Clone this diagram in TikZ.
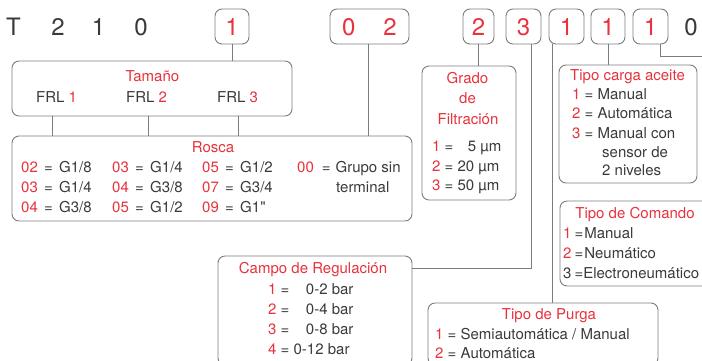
\documentclass[tikz,border=0pt]{standalone}
\usepackage{fontspec}
\setmainfont{TeX Gyre Heros}
\newfontfamily\qfont{TeX Gyre Heros}
\definecolor{rd}{HTML}{E8323C}
\definecolor{txt}{HTML}{3A3A3A}
\definecolor{ln}{HTML}{7C7C7C}
\newcommand\lblfont{\fontsize{15}{18}\selectfont}
\newcommand\bigdfont{\fontsize{24}{28}\selectfont}
\newcommand\rr[1]{\textcolor{rd}{#1}}
\tikzset{
  lbl/.style={inner sep=0pt, text=txt, font=\lblfont},
  ttl/.style={inner sep=0pt, text=rd, font=\lblfont, anchor=base},
  bigtxt/.style={inner sep=0pt, text=txt, font=\bigdfont, anchor=base},
  infobox/.style={draw=ln, line width=0.9pt, rounded corners=7pt, inner sep=0pt},
  digitbox/.style={infobox, text=rd, font=\bigdfont, text height=17pt, text depth=0pt, inner ysep=9pt, inner xsep=0pt, minimum height=35pt},
  wire/.style={draw=ln, line width=0.9pt}
}
\begin{document}
\begin{tikzpicture}[x=1pt,y=-1pt]
\useasboundingbox (0,0) rectangle (702,360);
\clip (0,0) rectangle (702,360);
% top code row
\node[bigtxt] (tT) at (13.5,35) {T};
\node[bigtxt] (t2) at (58,35) {2};
\node[bigtxt] (t1) at (98.5,35) {1};
\node[bigtxt] (t0) at (141,35) {0};
\node[bigtxt] (tend) at (691,35) {0};
\node[digitbox, minimum width=34pt] (b1) at (232,26.5) {1};
\node[digitbox, minimum width=79pt] (b02) at (369.5,26.5) {0\hspace{28pt}2};
\node[digitbox, minimum width=31pt] (b2) at (478.5,26.5) {2};
\node[digitbox, minimum width=35pt] (b3) at (523.5,26.5) {3};
\node[digitbox, minimum width=35pt] (b4) at (566.5,26.5) {1};
\node[digitbox, minimum width=34pt] (b5) at (608,26.5) {1};
\node[digitbox, minimum width=35pt] (b6) at (650.5,26.5) {1};
% boxes
\node[infobox, minimum width=280pt, minimum height=55pt] (tamano) at (152,88.5) {};
\node[infobox, minimum width=400pt, minimum height=85pt] (rosca) at (212,178.5) {};
\node[infobox, minimum width=94pt, minimum height=134pt] (grado) at (469,133) {};
\node[infobox, minimum width=138pt, minimum height=118pt] (carga) at (628,124) {};
\node[infobox, minimum width=150pt, minimum height=85pt] (comando) at (635,243.5) {};
\node[infobox, minimum width=194pt, minimum height=109pt] (campo) at (315,310.5) {};
\node[infobox, minimum width=230pt, minimum height=62pt] (purga) at (543,334) {};
% connectors
\draw[wire] (b1.south) -- (b1.south |- tamano.north);
\draw[wire] ([xshift=41pt]tamano.south west) -- ([xshift=41pt]tamano.south west |- rosca.north);
\draw[wire] ([xshift=137pt]tamano.south west) -- ([xshift=137pt]tamano.south west |- rosca.north);
\draw[wire] ([xshift=227pt]tamano.south west) -- ([xshift=227pt]tamano.south west |- rosca.north);
\draw[wire] ([xshift=-1.5pt]b02.south) -- ([xshift=-1.5pt]b02.south |- rosca.north);
\draw[wire] (b2.south) -- (b2.south |- grado.north);
\draw[wire] ([xshift=7.5pt]b3.south) |- ([yshift=-13pt]campo.north east);
\draw[wire] ([xshift=4pt]b4.south west) -- ([xshift=4pt]b4.south west |- purga.north);
\draw[wire] (b5.south) -- (b5.south |- carga.north);
\coordinate (offright) at (710,56);
\draw[wire] ([xshift=28pt]b6.south west) |- (offright);
% Tamano
\node[ttl] (tamT) at (152.5,81) {Tamaño};
\node[lbl, anchor=base west] (frl1) at (36,102) {FRL \rr{1}};
\node[lbl, anchor=base west] (frl2) at (126,102) {FRL \rr{2}};
\node[lbl, anchor=base west] (frl3) at (217,102) {FRL \rr{3}};
% Rosca
\node[ttl] (rosT) at (213,152) {Rosca};
\newcommand\ent[2]{\rr{#1}\hspace{6.3pt}=\hspace{6.3pt}#2}
\node[lbl, anchor=base west] (r11) at (21,172) {\ent{02}{G1/8}};
\node[lbl, anchor=base west] (r21) at (21,192) {\ent{03}{G1/4}};
\node[lbl, anchor=base west] (r31) at (21,212) {\ent{04}{G3/8}};
\node[lbl, anchor=base west] (r12) at (112,172) {\ent{03}{G1/4}};
\node[lbl, anchor=base west] (r22) at (112,192) {\ent{04}{G3/8}};
\node[lbl, anchor=base west] (r32) at (112,212) {\ent{05}{G1/2}};
\node[lbl, anchor=base west] (r13) at (202,172) {\ent{05}{G1/2}};
\node[lbl, anchor=base west] (r23) at (202,192) {\ent{07}{G3/4}};
\node[lbl, anchor=base west] (r33) at (202,212) {\ent{09}{G1{\qfont\char"22}}};
\node[lbl, anchor=base west] (r14) at (297,172) {\rr{00}\hspace{8pt}=\hspace{5pt}Grupo sin};
\node[lbl, anchor=base west] (r24) at (336,192) {terminal};
% Grado
\node[ttl] (grT1) at (467.5,83) {Grado};
\node[ttl] (grT2) at (467.5,103) {de};
\node[ttl] (grT3) at (468,124) {Filtración};
\node[lbl, anchor=base west] (g1) at (432,151) {\rr{1} = \hphantom{2}\hspace{2pt}5 µm};
\node[lbl, anchor=base west] (g2) at (432,171) {\rr{2} = 20 µm};
\node[lbl, anchor=base west] (g3) at (432,190) {\rr{3} = 50 µm};
% Tipo carga aceite
\node[ttl] (caT) at (627.5,80) {Tipo carga aceite};
\node[lbl, anchor=base west] (c1) at (572,99) {\rr{1} = Manual};
\node[lbl, anchor=base west] (c2) at (572,118) {\rr{2} = Automática};
\node[lbl, anchor=base west] (c3) at (572,138) {\rr{3} = Manual con};
\node[lbl, anchor=base west] (c4) at (602,157) {sensor de};
\node[lbl, anchor=base west] (c5) at (602,175) {2 niveles};
% Tipo de Comando
\node[ttl] (coT) at (635,218) {Tipo de Comando};
\node[lbl, anchor=base west] (co1) at (563,238) {\rr{1}\hspace{3pt}=\hspace{1pt}Manual};
\node[lbl, anchor=base west] (co2) at (563,258) {\rr{2}\hspace{3pt}=\hspace{1pt}Neumático};
\node[lbl, anchor=base west] (co3) at (563,278) {3\hspace{3pt}=\hspace{0pt}Electroneumático};
% Campo de Regulacion
\node[ttl] (caRT) at (313,273) {Campo de Regulación};
\node[lbl, anchor=base west] (cr1) at (268,294) {\rr{1} = \hphantom{1}\hspace{4pt}0-2 bar};
\node[lbl, anchor=base west] (cr2) at (268,314) {\rr{2} = \hphantom{1}\hspace{4pt}0-4 bar};
\node[lbl, anchor=base west] (cr3) at (268,334) {\rr{3} = \hphantom{1}\hspace{4pt}0-8 bar};
\node[lbl, anchor=base west] (cr4) at (268,354) {\rr{4} = 0-12 bar};
% Tipo de Purga
\node[ttl] (puT) at (549,319) {Tipo de Purga};
\node[lbl, anchor=base west] (p1) at (435,339) {\rr{1} = Semiautomática / Manual};
\node[lbl, anchor=base west] (p2) at (435,358) {\rr{2} = Automática};
\end{tikzpicture}
\end{document}
